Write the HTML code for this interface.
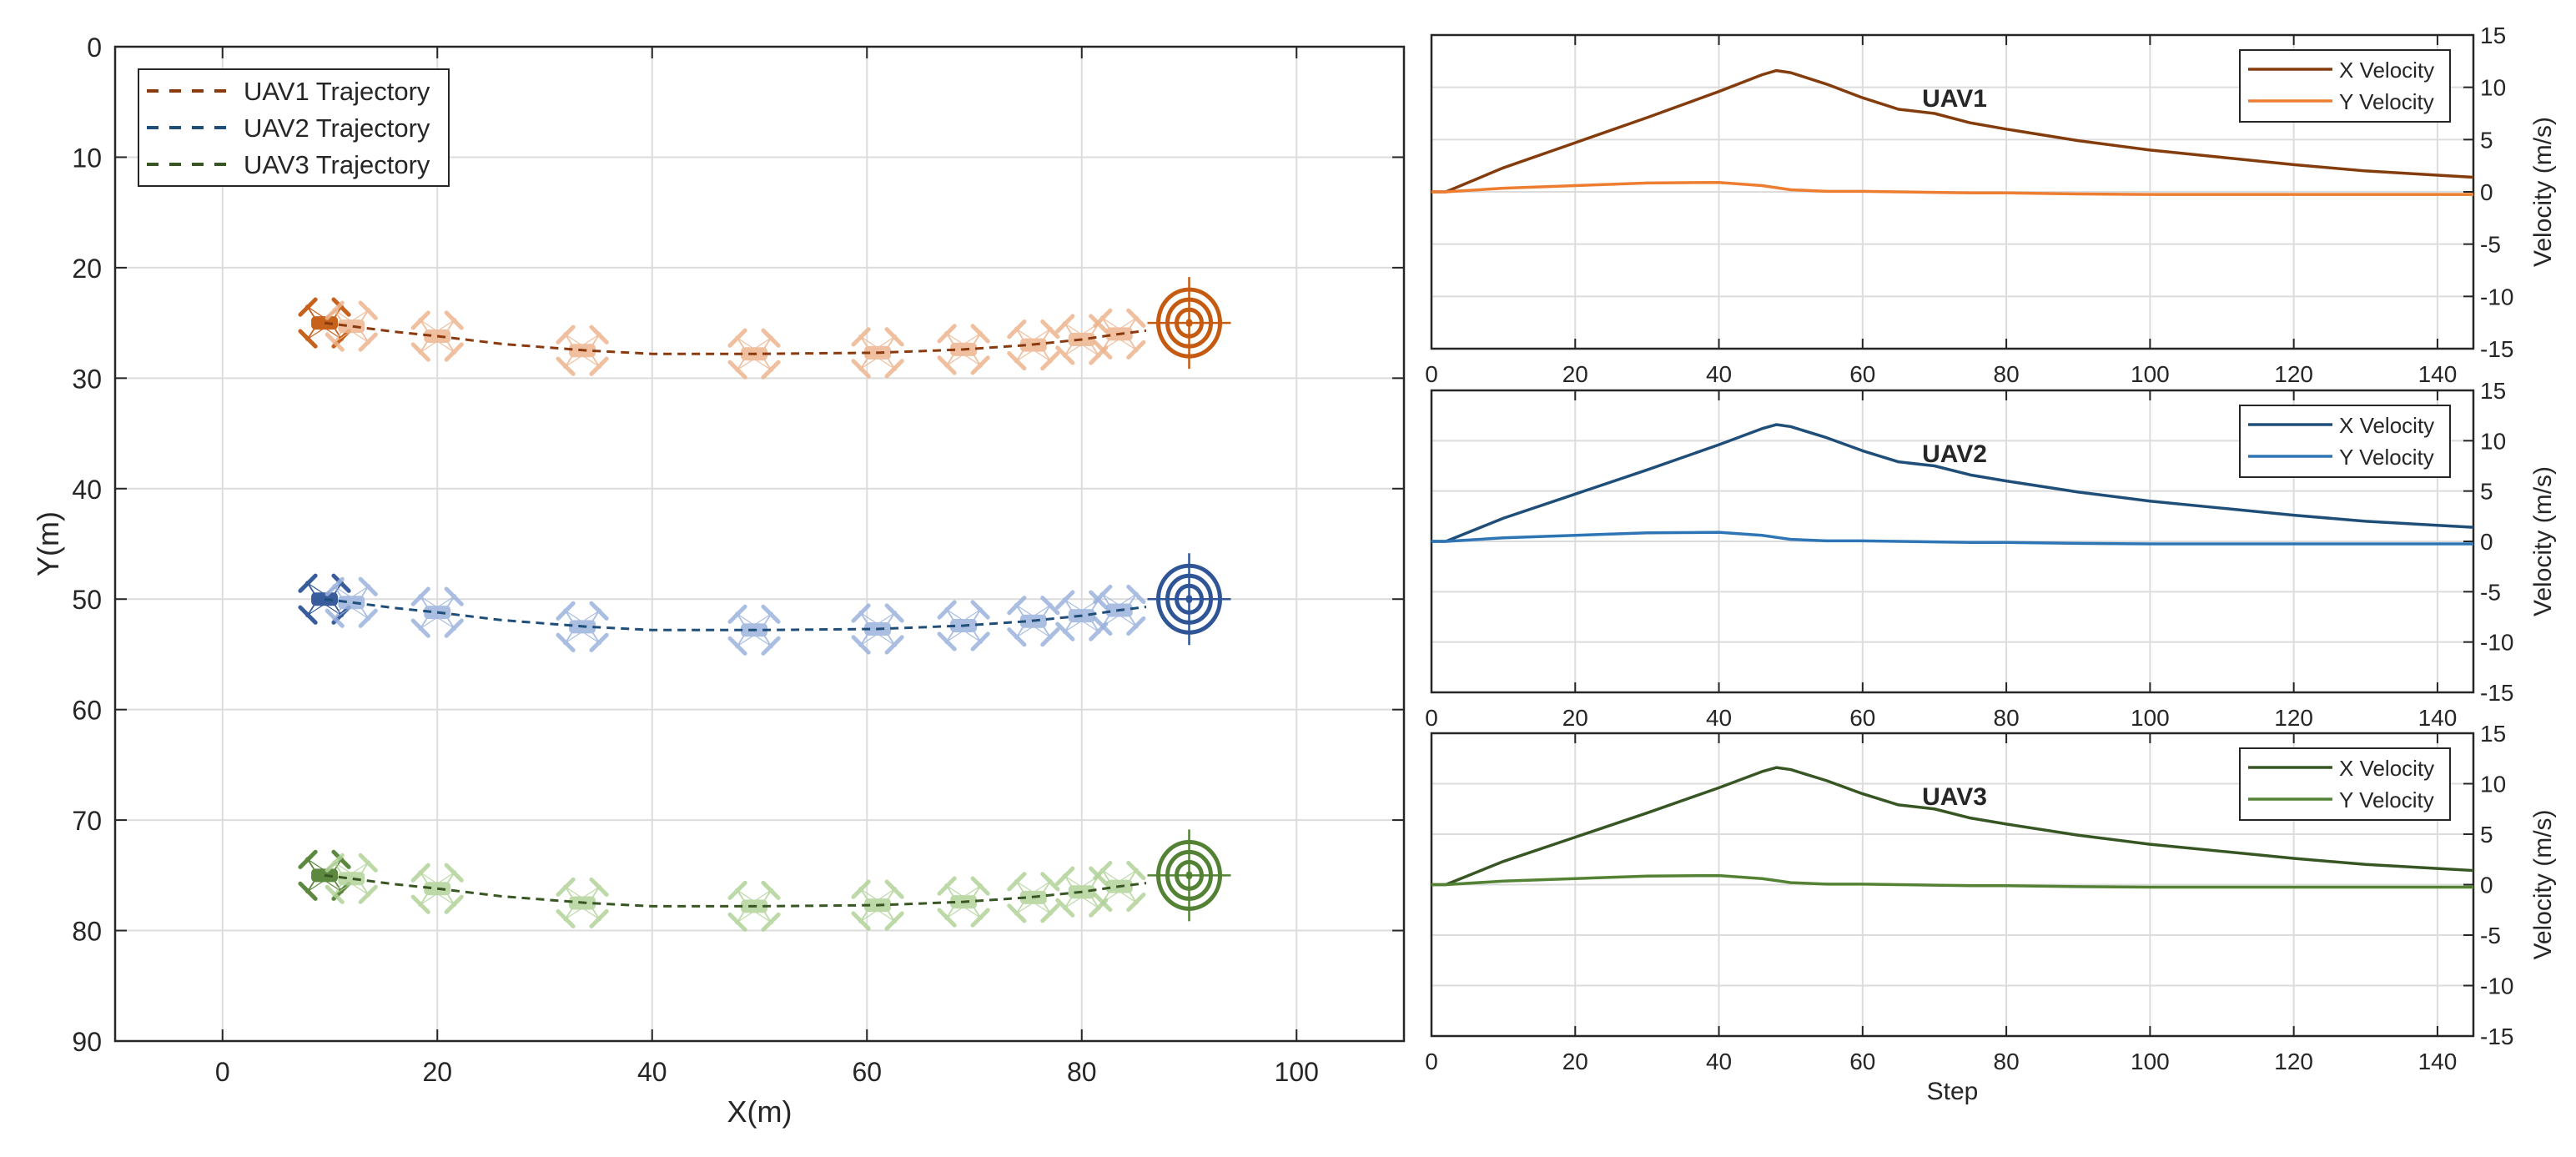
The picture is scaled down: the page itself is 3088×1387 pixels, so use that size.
<!DOCTYPE html>
<html><head><meta charset="utf-8"><style>
html,body{margin:0;padding:0;background:#fff;}
svg text{font-family:"Liberation Sans",sans-serif;fill:#262626;}
</style></head><body>
<svg id="chart" xmlns="http://www.w3.org/2000/svg" width="3088" height="1382" viewBox="0 0 3088 1382">
<rect width="3088" height="1382" fill="#fff"/>
<g id="left"></g><g id="right"></g>
</svg>
<script>
// ---------- trajectory data ----------
const trajX = [9.5, 12, 16, 20, 26, 34, 40, 50, 61, 69, 75, 80, 83.5, 86];
const trajDY = [0, 0.3, 0.8, 1.2, 1.9, 2.5, 2.8, 2.8, 2.7, 2.4, 2.0, 1.5, 1.0, 0.7];
const droneX = [9.5, 12, 20, 33.5, 49.5, 61, 69, 75.5, 80, 83.5];
const droneDY = [0, 0.3, 1.2, 2.5, 2.8, 2.7, 2.4, 2.0, 1.5, 1.0];
const uavBaseY = [25, 50, 75];
const targetX = 90;
const xTicksL = [0, 20, 40, 60, 80, 100];
const yTicksL = [0, 10, 20, 30, 40, 50, 60, 70, 80, 90];
// ---------- velocity data ----------
const steps = [0, 2, 10, 20, 30, 40, 46, 48, 50, 55, 60, 65, 70, 75, 80, 90, 100, 110, 120, 130, 140, 145];
const velX = [0, 0, 2.3, 4.7, 7.1, 9.6, 11.2, 11.6, 11.4, 10.3, 9.0, 7.9, 7.5, 6.6, 6.0, 4.9, 4.0, 3.3, 2.6, 2.0, 1.6, 1.4];
const velY = [0, 0, 0.35, 0.6, 0.85, 0.9, 0.6, 0.4, 0.2, 0.05, 0.05, 0.0, -0.05, -0.1, -0.1, -0.2, -0.25, -0.25, -0.25, -0.25, -0.25, -0.25];
const xTicksR = [0, 20, 40, 60, 80, 100, 120, 140];
const yTicksR = [-15, -10, -5, 0, 5, 10, 15];

const NS = "http://www.w3.org/2000/svg";
function mk(parent, tag, attrs, text) {
  const e = document.createElementNS(NS, tag);
  for (const k in attrs) e.setAttribute(k, attrs[k]);
  if (text !== undefined) e.textContent = text;
  parent.appendChild(e);
  return e;
}
const L = document.getElementById('left');
const R = document.getElementById('right');

// ---------- left plot ----------
const LX0 = 138, LX1 = 1683, LY0 = 56, LY1 = 1248;
const xL = v => LX0 + (v + 10) / 120 * (LX1 - LX0);
const yL = v => LY0 + v / 90 * (LY1 - LY0);
xTicksL.forEach(t => {
  const g = mk(L, 'line', {x1: xL(t), x2: xL(t), y1: LY0, y2: LY1, stroke: '#dcdcdc', 'stroke-width': 2});
  
  
  mk(L, 'line', {x1: xL(t), x2: xL(t), y1: LY0, y2: LY0 + 14, stroke: '#262626', 'stroke-width': 2});
  mk(L, 'line', {x1: xL(t), x2: xL(t), y1: LY1, y2: LY1 - 14, stroke: '#262626', 'stroke-width': 2});
  const lb = mk(L, 'text', {x: xL(t), y: LY1 + 48, 'font-size': 32, 'text-anchor': 'middle'}, String(t));
  
  
});
yTicksL.forEach(t => {
  const g = mk(L, 'line', {x1: LX0, x2: LX1, y1: yL(t), y2: yL(t), stroke: '#dcdcdc', 'stroke-width': 2});
  
  
  mk(L, 'line', {x1: LX0, x2: LX0 + 14, y1: yL(t), y2: yL(t), stroke: '#262626', 'stroke-width': 2});
  mk(L, 'line', {x1: LX1, x2: LX1 - 14, y1: yL(t), y2: yL(t), stroke: '#262626', 'stroke-width': 2});
  const lb = mk(L, 'text', {x: LX0 - 16, y: yL(t) + 12, 'font-size': 32, 'text-anchor': 'end'}, String(t));
  
  
});
const lframe = mk(L, 'rect', {x: LX0, y: LY0, width: LX1 - LX0, height: LY1 - LY0, fill: 'none', stroke: '#262626', 'stroke-width': 2.5});


const xt = mk(L, 'text', {x: (LX0 + LX1) / 2, y: 1345, 'font-size': 36, 'text-anchor': 'middle'}, 'X(m)');


const yt = mk(L, 'text', {x: 0, y: 0, 'font-size': 36, 'text-anchor': 'middle', transform: `translate(70,${(LY0 + LY1) / 2}) rotate(-90)`}, 'Y(m)');



const trajCol = ['#8B3A0F', '#1F4E79', '#375623'];
const lightCol = ['#EDB58F', '#9CB3DE', '#B2D39A'];
const darkCol = ['#C55A11', '#2F5597', '#548235'];

function drone(g, cx, cy, col, op) {
  const d = mk(g, 'g', {opacity: op});
  
  
  const a = 20, b = 19, bl = 13;
  [[-1, -1], [1, -1], [-1, 1], [1, 1]].forEach(([sx, sy]) => {
    const hx = cx + sx * a, hy = cy + sy * b;
    mk(d, 'line', {x1: cx + sx * 8, y1: cy, x2: hx, y2: hy, stroke: col, 'stroke-width': 1.8});
    mk(d, 'line', {x1: cx, y1: cy + sy * 6, x2: hx, y2: hy, stroke: col, 'stroke-width': 1.2});
    // blade perpendicular to arm
    mk(d, 'line', {x1: hx - sy * bl * 0.7, y1: hy + sx * bl * 0.7, x2: hx + sy * bl * 0.7, y2: hy - sx * bl * 0.7, stroke: col, 'stroke-width': 5, 'stroke-linecap': 'round'});
    mk(d, 'circle', {cx: hx, cy: hy, r: 2.5, fill: 'none', stroke: col, 'stroke-width': 1.2});
  });
  mk(d, 'rect', {x: cx - 16, y: cy - 8, width: 32, height: 16, rx: 5, fill: col});
}

uavBaseY.forEach((by, i) => {
  const g = mk(L, 'g', {});
  
  
  droneX.forEach((dx, k) => {
    drone(g, xL(dx), yL(by + droneDY[k]), k === 0 ? darkCol[i] : lightCol[i], k === 0 ? 0.95 : 0.85);
  });
  const pts = trajX.map((x, k) => xL(x) + ',' + yL(by + trajDY[k])).join(' ');
  const pl = mk(g, 'polyline', {points: pts, fill: 'none', stroke: trajCol[i], 'stroke-width': 3, 'stroke-dasharray': '10 7'});
  
  
  const tg = mk(g, 'g', {});
  
  
  const tx = xL(targetX), ty = yL(by);
  [[37, 40], [26, 28], [15, 16]].forEach(([rx, ry]) => mk(tg, 'ellipse', {cx: tx, cy: ty, rx: rx, ry: ry, fill: 'none', stroke: darkCol[i], 'stroke-width': 5}));
  mk(tg, 'ellipse', {cx: tx, cy: ty, rx: 4, ry: 5, fill: darkCol[i]});
  mk(tg, 'line', {x1: tx - 50, x2: tx + 50, y1: ty, y2: ty, stroke: darkCol[i], 'stroke-width': 2.5});
  mk(tg, 'line', {x1: tx, x2: tx, y1: ty - 55, y2: ty + 55, stroke: darkCol[i], 'stroke-width': 2.5});
});

// left legend
const lg = mk(L, 'g', {});


mk(lg, 'rect', {x: 166, y: 83, width: 372, height: 140, fill: '#fff', stroke: '#262626', 'stroke-width': 2});
['UAV1 Trajectory', 'UAV2 Trajectory', 'UAV3 Trajectory'].forEach((s, i) => {
  const yy = 109 + i * 44;
  const e = mk(lg, 'g', {});
  
  
  mk(e, 'line', {x1: 176, x2: 272, y1: yy, y2: yy, stroke: trajCol[i], 'stroke-width': 4, 'stroke-dasharray': '14 13'});
  mk(e, 'text', {x: 292, y: yy + 11, 'font-size': 31, fill: '#000'}, s);
});

// ---------- right plots ----------
const RX0 = 1716, RX1 = 2965;
const panels = [{t: 42, b: 418}, {t: 468, b: 830}, {t: 879, b: 1242}];
const xC = ['#843C0C', '#1F4E79', '#375623'];
const yC = ['#ED7D31', '#2E75B6', '#548235'];
const xR = v => RX0 + v / 145 * (RX1 - RX0);
panels.forEach((p, i) => {
  const yR = v => p.t + (15 - v) / 30 * (p.b - p.t);
  const g = mk(R, 'g', {});
  
  
  xTicksR.forEach(t => {
    mk(g, 'line', {x1: xR(t), x2: xR(t), y1: p.t, y2: p.b, stroke: '#dcdcdc', 'stroke-width': 2});
    mk(g, 'line', {x1: xR(t), x2: xR(t), y1: p.t, y2: p.t + 12, stroke: '#262626', 'stroke-width': 2});
    mk(g, 'line', {x1: xR(t), x2: xR(t), y1: p.b, y2: p.b - 12, stroke: '#262626', 'stroke-width': 2});
    const lb = mk(g, 'text', {x: xR(t), y: p.b + 40, 'font-size': 28, 'text-anchor': 'middle'}, String(t));
    
    
  });
  yTicksR.forEach(t => {
    mk(g, 'line', {x1: RX0, x2: RX1, y1: yR(t), y2: yR(t), stroke: '#dcdcdc', 'stroke-width': 2});
    mk(g, 'line', {x1: RX1, x2: RX1 - 12, y1: yR(t), y2: yR(t), stroke: '#262626', 'stroke-width': 2});
    const lb = mk(g, 'text', {x: RX1 + 8, y: yR(t) + 10, 'font-size': 28}, String(t));
    
    
  });
  mk(g, 'rect', {x: RX0, y: p.t, width: RX1 - RX0, height: p.b - p.t, fill: 'none', stroke: '#262626', 'stroke-width': 2.5});
  const lx = mk(g, 'polyline', {points: steps.map((s, k) => xR(s) + ',' + yR(velX[k])).join(' '), fill: 'none', stroke: xC[i], 'stroke-width': 3.5, 'stroke-linejoin': 'round'});
  
  
  const ly = mk(g, 'polyline', {points: steps.map((s, k) => xR(s) + ',' + yR(velY[k])).join(' '), fill: 'none', stroke: yC[i], 'stroke-width': 3.5, 'stroke-linejoin': 'round'});
  
  
  const tl = mk(g, 'text', {x: 2343, y: p.t + 86, 'font-size': 30, 'font-weight': 'bold', 'text-anchor': 'middle', fill: '#000'}, 'UAV' + (i + 1));
  
  
  const va = mk(g, 'text', {x: 0, y: 0, 'font-size': 30, 'text-anchor': 'middle', transform: `translate(3058,${(p.t + p.b) / 2}) rotate(-90)`}, 'Velocity (m/s)');
  
  
  const lgd = mk(g, 'g', {});
  
  
  mk(lgd, 'rect', {x: 2685, y: p.t + 18, width: 252, height: 86, fill: '#fff', stroke: '#262626', 'stroke-width': 2});
  [['X Velocity', xC[i]], ['Y Velocity', yC[i]]].forEach(([s, c], k) => {
    const yy = p.t + 41 + k * 38;
    const e = mk(lgd, 'g', {});
    
    
    mk(e, 'line', {x1: 2695, x2: 2796, y1: yy, y2: yy, stroke: c, 'stroke-width': 3.5});
    mk(e, 'text', {x: 2804, y: yy + 10, 'font-size': 26, fill: '#000'}, s);
  });
});
const st = mk(R, 'text', {x: (RX0 + RX1) / 2, y: 1318, 'font-size': 30, 'text-anchor': 'middle'}, 'Step');


</script>
</body></html>
